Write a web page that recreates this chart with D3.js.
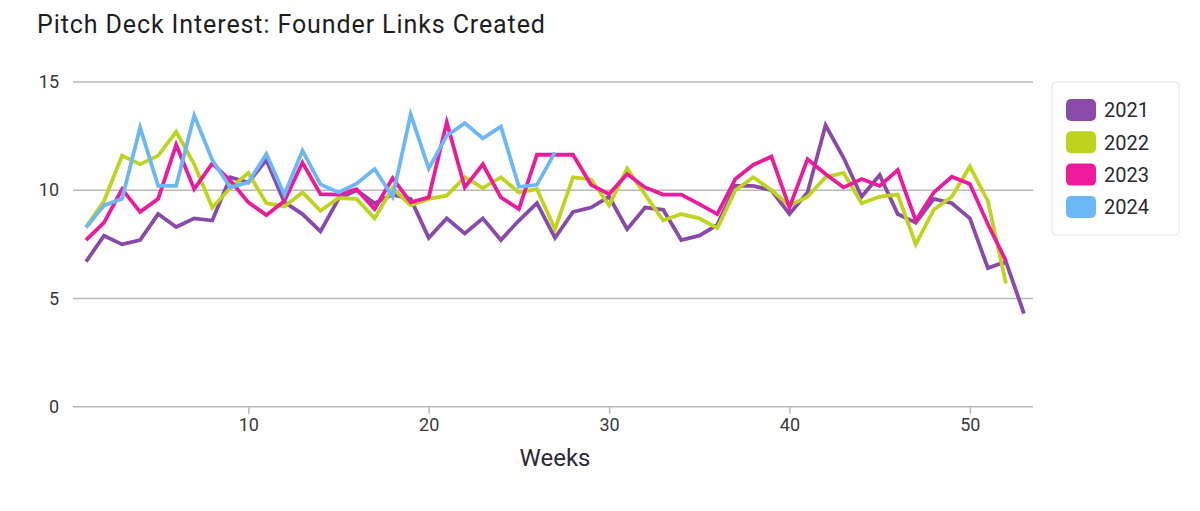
<!DOCTYPE html>
<html>
<head>
<meta charset="utf-8">
<script src="https://cdn.jsdelivr.net/npm/d3@7"></script>
<style>
  html, body { margin: 0; padding: 0; background: #fff; }
  svg { display: block; font-family: Roboto, "Noto Sans", sans-serif; }
</style>
</head>
<body>
<svg id="chart" width="1200" height="511"></svg>
<script>
const title = "Pitch Deck Interest: Founder Links Created";
const xLabel = "Weeks";
const seriesNames = ["2021", "2022", "2023", "2024"];
const seriesColors = ["#8a4aa9", "#bfd41c", "#ee1a9c", "#6cb8f7"];
const yTicks = [0, 5, 10, 15];
const xTicks = [10, 20, 30, 40, 50];

const values2021 = [6.7, 7.9, 7.5, 7.7, 8.9, 8.3, 8.7, 8.6, 10.6, 10.35, 11.4, 9.45, 8.9, 8.1, 9.6, 10.0, 9.4, 9.8, 9.6, 7.8, 8.7, 8.0, 8.7, 7.7, 8.6, 9.4, 7.8, 9.0, 9.2, 9.7, 8.2, 9.2, 9.1, 7.7, 7.9, 8.4, 10.2, 10.2, 10.0, 8.9, 9.9, 13.0, 11.5, 9.7, 10.7, 8.9, 8.5, 9.6, 9.4, 8.7, 6.4, 6.7, 4.3];
const values2022 = [8.3, 9.5, 11.6, 11.2, 11.6, 12.7, 11.2, 9.2, 10.1, 10.8, 9.4, 9.25, 9.9, 9.05, 9.64, 9.6, 8.7, 10.1, 9.3, 9.6, 9.75, 10.6, 10.1, 10.6, 9.9, 10.05, 8.2, 10.6, 10.5, 9.3, 11.0, 9.8, 8.6, 8.9, 8.7, 8.25, 10.0, 10.6, 10.0, 9.3, 9.7, 10.6, 10.8, 9.4, 9.7, 9.8, 7.5, 9.1, 9.7, 11.1, 9.5, 5.7];
const values2023 = [7.7, 8.5, 10.05, 9.0, 9.6, 12.1, 10.05, 11.24, 10.45, 9.44, 8.85, 9.5, 11.28, 9.82, 9.8, 10.05, 9.13, 10.56, 9.44, 9.67, 13.14, 10.13, 11.2, 9.67, 9.13, 11.64, 11.64, 11.64, 10.25, 9.82, 10.75, 10.13, 9.8, 9.8, 9.36, 8.9, 10.52, 11.18, 11.55, 9.2, 11.44, 10.75, 10.13, 10.52, 10.2, 10.93, 8.59, 9.9, 10.62, 10.29, 8.43, 6.74];
const values2024 = [8.28, 9.3, 9.6, 12.9, 10.2, 10.2, 13.45, 11.4, 10.13, 10.36, 11.67, 9.8, 11.83, 10.27, 9.9, 10.3, 10.98, 9.7, 13.5, 11.0, 12.52, 13.1, 12.4, 12.94, 10.16, 10.25, 11.75];

const allValues = [values2021, values2022, values2023, values2024];

const svg = d3.select("#chart");

const x = d3.scaleLinear().domain([0.28, 53.5]).range([73, 1033]);
const y = d3.scaleLinear().domain([0, 15]).range([406.7, 82]);

// title
svg.append("text")
  .attr("x", 37).attr("y", 32.5)
  .attr("font-size", 25)
  .attr("letter-spacing", 0.9)
  .attr("fill", "#1e1e1e")
  .text(title);

// grid lines
const gridG = svg.append("g");
gridG.selectAll("line").data(yTicks).join("line")
  .attr("x1", x.range()[0]).attr("x2", x.range()[1])
  .attr("y1", d => y(d)).attr("y2", d => y(d))
  .attr("stroke", "#b9b9b9").attr("stroke-width", 1.5);

// y axis labels
const yAxis = d3.axisLeft(y).tickValues(yTicks).tickSize(0).tickPadding(0).tickFormat(d3.format("d"));
const yG = svg.append("g").attr("transform", "translate(59,0)").call(yAxis);
yG.select(".domain").remove();
yG.selectAll("text").attr("font-size", 18).attr("fill", "#3a3a3a").attr("font-family", "Roboto, sans-serif");

// x axis
const xAxis = d3.axisBottom(x).tickValues(xTicks).tickSize(7).tickPadding(5).tickFormat(d3.format("d"));
const xG = svg.append("g").attr("transform", `translate(0,${y(0)})`).call(xAxis);
xG.select(".domain").remove();
xG.selectAll(".tick line").attr("stroke", "#b9b9b9").attr("stroke-width", 1.5);
xG.selectAll("text").attr("font-size", 18).attr("fill", "#3a3a3a").attr("font-family", "Roboto, sans-serif");

// x label
svg.append("text")
  .attr("x", 555).attr("y", 466)
  .attr("text-anchor", "middle")
  .attr("font-size", 24)
  .attr("fill", "#2a2a35")
  .text(xLabel);

// lines
const line = d3.line().x((d, i) => x(i + 1)).y(d => y(d)).curve(d3.curveLinear);
svg.append("g").selectAll("path").data(allValues).join("path")
  .attr("d", d => line(d))
  .attr("fill", "none")
  .attr("stroke", (d, i) => seriesColors[i])
  .attr("stroke-width", 3.8)
  .attr("stroke-linejoin", "miter")
  .attr("stroke-linecap", "butt");

// legend
const lg = svg.append("g");
lg.append("rect")
  .attr("x", 1052).attr("y", 82).attr("width", 127).attr("height", 153)
  .attr("rx", 4).attr("fill", "#fff").attr("stroke", "#e6e6e6").attr("stroke-width", 1);
const rows = lg.selectAll("g.row").data(seriesNames).join("g")
  .attr("class", "row")
  .attr("transform", (d, i) => `translate(0,${110 + i * 32.3})`);
rows.append("rect")
  .attr("x", 1066).attr("y", -11).attr("width", 30).attr("height", 22).attr("rx", 5)
  .attr("fill", (d, i) => seriesColors[i]);
rows.append("text")
  .attr("x", 1104).attr("y", 0).attr("dy", "0.36em")
  .attr("font-size", 20).attr("fill", "#2a2a30")
  .text(d => d);
</script>
</body>
</html>
